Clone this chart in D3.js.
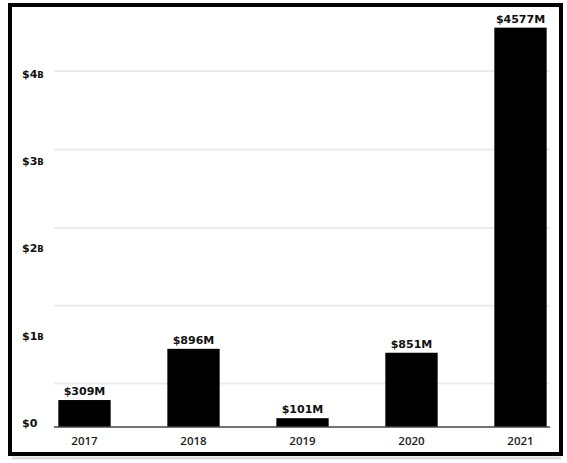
<!DOCTYPE html>
<html>
<head>
<meta charset="utf-8">
<script src="https://cdn.jsdelivr.net/npm/d3@7"></script>
<style>
  html, body { margin: 0; padding: 0; background: #fff; }
  svg { display: block; }
</style>
</head>
<body>
<div class="root"></div>
<script>
// chart data (millions of USD)
var years = ['2017', '2018', '2019', '2020', '2021'];
var amounts = [309, 896, 101, 851, 4577];
var valueLabels = ['$309M', '$896M', '$101M', '$851M', '$4577M'];
var tickValues = [0, 1000, 2000, 3000, 4000];
var tickLabels = [['$0', ''], ['$1', 'B'], ['$2', 'B'], ['$3', 'B'], ['$4', 'B']];
var gridValues = [500, 1390, 2280, 3180, 4080];

function runChart() {
  var w = 567, h = 463;

  var svg = d3.select('.root').append('svg')
    .attr('width', w)
    .attr('height', h);

  var x = d3.scaleBand()
    .domain(years)
    .range([30, 575])
    .paddingInner(0.52)
    .paddingOuter(0.26);

  var y = d3.scaleLinear()
    .domain([0, 4000])
    .range([427, 78]);

  // grid lines
  svg.append('g')
    .attr('class', 'grid')
    .selectAll('line')
    .data(gridValues)
    .enter().append('line')
      .attr('x1', 54)
      .attr('x2', 550)
      .attr('y1', function(d) { return y(d); })
      .attr('y2', function(d) { return y(d); })
      .attr('stroke', '#ebebeb')
      .attr('stroke-width', 2);

  // y tick labels
  var ticks = svg.append('g')
    .attr('class', 'y-labels')
    .selectAll('text')
    .data(tickValues)
    .enter().append('text')
      .attr('x', 22)
      .attr('y', function(d) { return y(d) - 4; })
      .attr('dy', '0.35em')
      .attr('font-family', 'DejaVu Sans, sans-serif')
      .attr('font-weight', 'bold')
      .attr('font-size', 11)
      .attr('fill', '#111');
  ticks.append('tspan')
    .text(function(d, i) { return tickLabels[i][0]; });
  ticks.append('tspan')
    .attr('font-size', 8.5)
    .text(function(d, i) { return tickLabels[i][1]; });

  // bars
  svg.append('g')
    .attr('class', 'bars')
    .selectAll('rect')
    .data(amounts)
    .enter().append('rect')
      .attr('x', function(d, i) { return x(years[i]); })
      .attr('width', x.bandwidth())
      .attr('y', function(d) { return y(d); })
      .attr('height', function(d) { return y(0) - y(d); })
      .attr('fill', '#000');

  // value labels
  svg.append('g')
    .attr('class', 'values')
    .selectAll('text')
    .data(amounts)
    .enter().append('text')
      .attr('x', function(d, i) { return x(years[i]) + x.bandwidth() / 2; })
      .attr('y', function(d) { return y(d) - 5; })
      .attr('text-anchor', 'middle')
      .attr('font-family', 'DejaVu Sans, sans-serif')
      .attr('font-weight', 'bold')
      .attr('font-size', 11)
      .attr('fill', '#111')
      .text(function(d, i) { return valueLabels[i]; });

  // baseline
  svg.append('line')
    .attr('x1', 54)
    .attr('x2', 550)
    .attr('y1', y(0))
    .attr('y2', y(0))
    .attr('stroke', '#444')
    .attr('stroke-width', 1.5);

  // x labels
  svg.append('g')
    .attr('class', 'x-labels')
    .selectAll('text')
    .data(years)
    .enter().append('text')
      .attr('x', function(d) { return x(d) + x.bandwidth() / 2; })
      .attr('y', 441)
      .attr('dy', '0.35em')
      .attr('text-anchor', 'middle')
      .attr('font-family', 'Open Sans, sans-serif')
      .attr('font-weight', 600)
      .attr('font-size', 11.5)
      .attr('fill', '#1a1a1a')
      .text(function(d) { return d; });

  // frame
  svg.append('line')
    .attr('x1', 12).attr('x2', 561)
    .attr('y1', 458).attr('y2', 458)
    .attr('stroke', '#ddd')
    .attr('stroke-width', 3);

  svg.append('rect')
    .attr('x', 10)
    .attr('y', 5)
    .attr('width', 551)
    .attr('height', 449)
    .attr('fill', 'none')
    .attr('stroke', '#000')
    .attr('stroke-width', 4);
}

window.onload = function() {
  runChart();
}
</script>
</body>
</html>
